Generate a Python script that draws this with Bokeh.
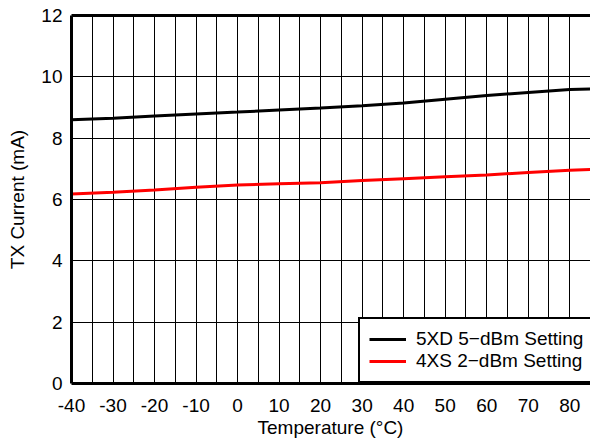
from bokeh.plotting import figure
from bokeh.models import Range1d, FixedTicker, LinearAxis, Legend, LegendItem, Div
from bokeh.layouts import column
from bokeh.embed import file_html
from bokeh.resources import INLINE

# ---- data ----
temps = [-40, -30, -20, -10, 0, 10, 20, 30, 40, 50, 60, 70, 80, 85]
cur_5xd = [8.60, 8.65, 8.72, 8.79, 8.85, 8.92, 8.98, 9.06, 9.15, 9.27, 9.39, 9.49, 9.59, 9.60]
cur_4xs = [6.18, 6.24, 6.31, 6.40, 6.47, 6.51, 6.55, 6.62, 6.68, 6.74, 6.80, 6.88, 6.95, 6.98]
x_ticks = [-40, -30, -20, -10, 0, 10, 20, 30, 40, 50, 60, 70, 80]
x_tick_labels = ["-40", "-30", "-20", "-10", "0", "10", "20", "30", "40", "50", "60", "70", "80"]
x_grid = [-35, -30, -25, -20, -15, -10, -5, 0, 5, 10, 15, 20, 25, 30, 35, 40, 45, 50, 55, 60, 65, 70, 75, 80]
y_ticks = [0, 2, 4, 6, 8, 10, 12]
series_labels = ["5XD 5\u2212dBm Setting", "4XS 2\u2212dBm Setting"]
x_title = "Temperature (\u00b0C)"
y_title = "TX Current (mA)"

FONT = "Liberation Sans"
FS = "19px"

X0, X1 = -40, 85
Y0, Y1 = 0, 12

p = figure(width=590, height=420, output_backend="svg", toolbar_location=None,
           x_range=Range1d(X0, X1), y_range=Range1d(Y0, Y1),
           min_border_left=71, min_border_right=0, min_border_top=15, min_border_bottom=37,
           x_axis_location="below", y_axis_location="left")
p.outline_line_color = None
p.background_fill_color = "white"
p.border_fill_color = "white"

# grid
p.xgrid.ticker = FixedTicker(ticks=x_grid)
p.ygrid.ticker = FixedTicker(ticks=y_ticks)
for g in (p.xgrid, p.ygrid):
    g.grid_line_color = "black"
    g.grid_line_width = 1
    g.grid_line_alpha = 1

# axes
xa = p.xaxis[0]
ya = p.yaxis[0]
xa.ticker = FixedTicker(ticks=x_ticks)
xa.major_label_overrides = {t: s for t, s in zip(x_ticks, x_tick_labels)}
ya.ticker = FixedTicker(ticks=y_ticks)
for ax in (xa, ya):
    ax.axis_line_color = "black"
    ax.axis_line_width = 3
    ax.major_tick_line_color = None
    ax.minor_tick_line_color = None
    ax.major_tick_out = 0
    ax.major_tick_in = 0
    ax.minor_tick_out = 0
    ax.major_label_text_font = FONT
    ax.major_label_text_font_size = FS
    ax.major_label_text_color = "black"
    ax.axis_label_text_font = FONT
    ax.axis_label_text_font_size = FS
    ax.axis_label_text_font_style = "normal"
    ax.axis_label_text_color = "black"
ya.axis_label = y_title
xa.major_label_standoff = 15
ya.major_label_standoff = 9
ya.axis_label_standoff = 10

top = LinearAxis(ticker=FixedTicker(ticks=[]), axis_line_width=3, axis_line_color="black",
                 major_tick_line_color=None, minor_tick_line_color=None,
                 major_tick_out=0, minor_tick_out=0, major_label_standoff=0)
p.add_layout(top, "above")

r1 = p.line(temps, cur_5xd, line_color="black", line_width=3)
r2 = p.line(temps, cur_4xs, line_color="#ff0000", line_width=3)

legend = Legend(items=[LegendItem(label=series_labels[0], renderers=[r1]),
                       LegendItem(label=series_labels[1], renderers=[r2])],
                location=(287, 0), margin=0, padding=9, spacing=0,
                glyph_width=37, glyph_height=20, label_standoff=10,
                label_text_font=FONT, label_text_font_size=FS, label_text_color="black",
                border_line_color="black", border_line_width=2.5, border_line_alpha=1,
                background_fill_color="white", background_fill_alpha=1)
p.add_layout(legend)

# x-axis title, centred under the plot frame
title_div = Div(text=('<div style="display:block;width:519px;text-align:center;'
                      'font-family:\'Liberation Sans\';font-size:19px;line-height:16px;'
                      'color:black;white-space:nowrap;">' + x_title + '</div>'),
                width=519, height=20, margin=(0, 0, 0, 71),
                styles={"width": "519px", "text-align": "center"})

layout = column(p, title_div, spacing=0)

open("out.html", "w").write(file_html(layout, INLINE))
